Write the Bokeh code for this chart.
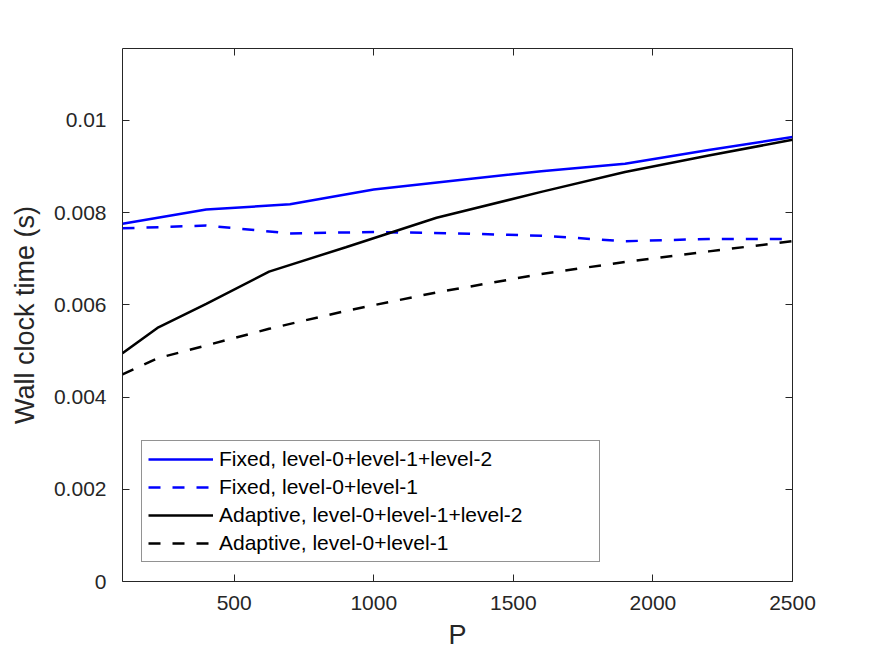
from bokeh.plotting import figure
from bokeh.models import FixedTicker, LinearAxis, Range1d, Legend, LegendItem
from bokeh.embed import file_html
from bokeh.resources import INLINE

# ---- data ----
p_fixed = [100, 400, 700, 1000, 1300, 1600, 1900, 2200, 2500]
fixed_full = [0.00776, 0.00807, 0.00818, 0.00850, 0.00870, 0.00890, 0.00906, 0.00936, 0.00964]
fixed_l01 = [0.00766, 0.00772, 0.00755, 0.00758, 0.00755, 0.00750, 0.00738, 0.00743, 0.00743]

p_adapt = [100, 225, 400, 625, 900, 1225, 1600, 1900, 2200, 2500]
adapt_full = [0.00495, 0.00550, 0.00602, 0.00672, 0.00725, 0.00789, 0.00845, 0.00888, 0.00924, 0.00958]
adapt_l01 = [0.00449, 0.00484, 0.00512, 0.00548, 0.00587, 0.00627, 0.00667, 0.00693, 0.00716, 0.00738]

series_names = [
    "Fixed, level-0+level-1+level-2",
    "Fixed, level-0+level-1",
    "Adaptive, level-0+level-1+level-2",
    "Adaptive, level-0+level-1",
]

x_ticks = [500, 1000, 1500, 2000, 2500]
y_ticks = [0, 0.002, 0.004, 0.006, 0.008, 0.01]
y_tick_labels = ["0", "0.002", "0.004", "0.006", "0.008", "0.01"]

FONT = "Liberation Sans"
TXT = "#262626"

p = figure(width=875, height=657,
           x_range=Range1d(100, 2500), y_range=Range1d(0, 0.01156),
           output_backend="svg", toolbar_location=None,
           min_border_left=122, min_border_right=83,
           min_border_top=48, min_border_bottom=76)
p.xgrid.visible = False
p.ygrid.visible = False
p.outline_line_color = TXT
p.outline_line_width = 1
p.background_fill_color = "white"
p.border_fill_color = "white"

def style_axis(ax, ticks, show_labels):
    ax.ticker = FixedTicker(ticks=ticks)
    ax.axis_line_color = None
    ax.major_tick_in = 7
    ax.major_tick_out = 0
    ax.major_tick_line_color = TXT
    ax.minor_tick_line_color = None
    ax.major_label_text_font = FONT
    ax.major_label_text_color = TXT
    ax.major_label_text_font_size = "21px" if show_labels else "0px"
    ax.axis_label_text_font = FONT
    ax.axis_label_text_font_style = "normal"
    ax.axis_label_text_color = TXT
    ax.axis_label_text_font_size = "27px"

xa = p.xaxis[0]
ya = p.yaxis[0]
style_axis(xa, x_ticks, True)
style_axis(ya, y_ticks, True)
xa.axis_label = "P"
ya.axis_label = "Wall clock time (s)"
xa.major_label_standoff = 14
ya.major_label_standoff = 16
xa.axis_label_standoff = 7
ya.axis_label_standoff = 11
ya.major_label_overrides = {t: l for t, l in zip(y_ticks, y_tick_labels)}

top = LinearAxis()
right = LinearAxis()
style_axis(top, x_ticks, False)
style_axis(right, y_ticks, False)
top.major_label_standoff = 0
right.major_label_standoff = 0
p.add_layout(top, "above")
p.add_layout(right, "right")

lw = 2.5
r1 = p.line(p_fixed, fixed_full, line_color="#0000ff", line_width=lw)
r2 = p.line(p_fixed, fixed_l01, line_color="#0000ff", line_width=lw, line_dash="12 12")
r3 = p.line(p_adapt, adapt_full, line_color="#000000", line_width=lw)
r4 = p.line(p_adapt, adapt_l01, line_color="#000000", line_width=lw, line_dash="12 12")

legend = Legend(items=[LegendItem(label=n, renderers=[r]) for n, r in zip(series_names, [r1, r2, r3, r4])],
                location=(19, 19))
legend.border_line_color = TXT
legend.border_line_width = 1
legend.background_fill_alpha = 1
legend.label_text_font = FONT
legend.label_text_font_size = "21px"
legend.label_text_color = "#000000"
legend.glyph_width = 65
legend.glyph_height = 20
legend.spacing = 4
legend.padding = 6
legend.margin = 0
legend.label_standoff = 6
legend.label_height = 20
legend.label_width = 374
p.add_layout(legend)

open("out.html", "w").write(file_html(p, INLINE))
